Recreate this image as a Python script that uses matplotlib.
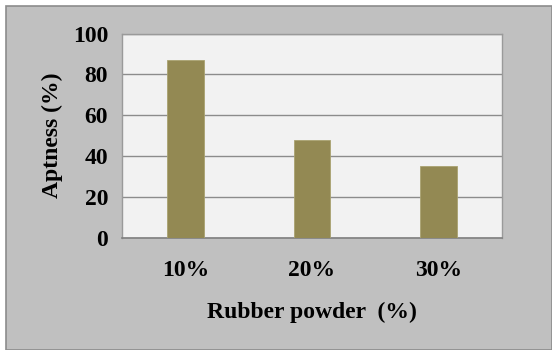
import matplotlib
matplotlib.use("Agg")
import matplotlib.pyplot as plt
from matplotlib.patches import Rectangle

categories = ["10%", "20%", "30%"]
aptness = [87, 48, 35]
y_ticks = [0, 20, 40, 60, 80, 100]

W, H = 552, 350
fig = plt.figure(figsize=(W / 100, H / 100), dpi=100)
fig.patch.set_facecolor("white")

# gray chart panel with a thin frame
fig.add_artist(Rectangle((6 / W, 0), (W - 6) / W, (H - 6) / H,
                         transform=fig.transFigure, facecolor="#c0c0c0",
                         edgecolor="#8c8c8c", linewidth=1.2, zorder=0))

ax = fig.add_axes([122 / W, 1 - 238 / H, 380 / W, (238 - 33.5) / H])
ax.set_facecolor("#f2f2f2")

x = range(len(categories))
ax.bar(x, aptness, width=0.29, color="#938953", edgecolor="#a9a270",
       linewidth=0.6, zorder=3)

ax.set_xlim(-0.5, len(categories) - 0.5)
ax.set_ylim(0, 100)
ax.set_yticks(y_ticks)
ax.set_xticks(list(x))
ax.set_xticklabels(categories)
ax.yaxis.grid(True, color="#8c8c8c", linewidth=1.0, zorder=1)
ax.set_axisbelow(True)

fs = 17
font = dict(family="Liberation Serif", weight="bold", size=fs)
for lbl in ax.get_xticklabels() + ax.get_yticklabels():
    lbl.set_fontfamily("Liberation Serif")
    lbl.set_fontweight("bold")
    lbl.set_fontsize(fs)
ax.tick_params(axis="both", length=0)
ax.tick_params(axis="y", pad=10)
ax.tick_params(axis="x", pad=16)

for side in ["top", "right", "left"]:
    ax.spines[side].set_color("#9a9a9a")
    ax.spines[side].set_linewidth(1.0)
ax.spines["bottom"].set_color("#808080")
ax.spines["bottom"].set_linewidth(1.2)

ax.set_xlabel("Rubber powder  (%)", labelpad=15, **font)
ax.set_ylabel("Aptness (%)", labelpad=7, **font)

fig.savefig("out.png", dpi=100, facecolor=fig.get_facecolor())
